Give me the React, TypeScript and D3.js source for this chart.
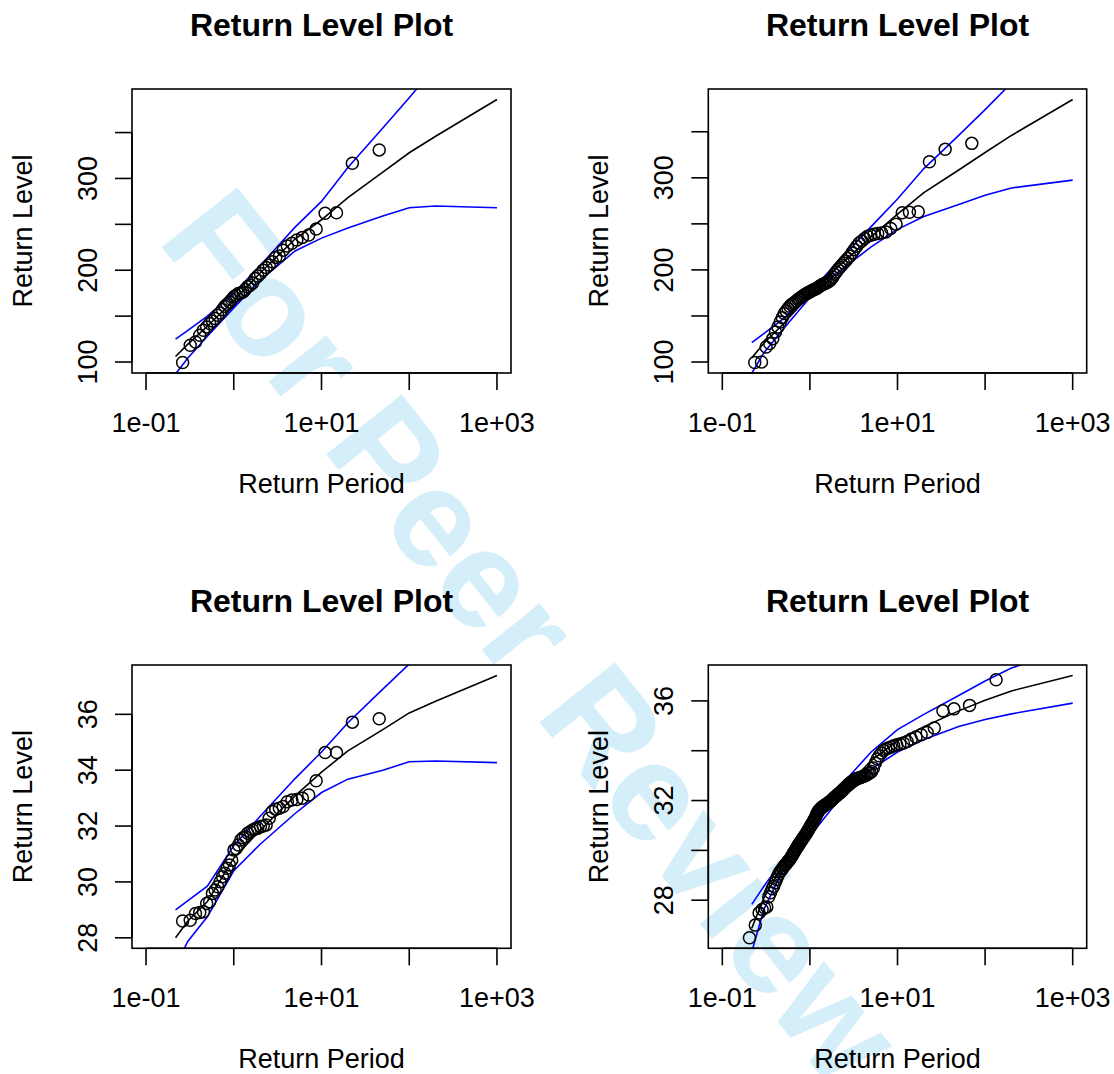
import React from "react";
import * as d3 from "d3";

// Return periods at which the fitted return level and its 95% bounds are drawn
const RETURN_PERIODS = [0.217, 0.3, 0.5, 1, 2, 5, 10, 20, 50, 100, 200, 1000];

// Panel A (top left)
const obsA = [
  99.5, 118.2, 121.8, 129.1, 134.6, 138.2, 141.9, 144.8, 147.4, 151.0,
  153.5, 157.2, 160.8, 163.0, 165.5, 168.1, 171.0, 172.8, 174.7, 175.3,
  176.4, 179.0, 181.9, 183.7, 186.2, 191.0, 193.6, 196.5, 200.1, 203.0,
  205.6, 209.2, 214.0, 215.4, 221.9, 226.3, 229.3, 232.9, 235.8, 238.3,
  244.9, 262.0, 262.7, 316.6, 331.1,
];
const fitA = [106, 119.5, 139, 167, 197, 234, 255, 279, 307, 328, 346, 386];
const upA = [125, 134.5, 150, 175, 205, 247, 275, 312, 355, 388, 422, 504];
const loA = [87, 104.5, 128, 159, 189, 221, 235, 246, 259, 268, 270, 268];

// Panel B (top right)
const obsB = [
  99.5, 100.0, 116.3, 120.0, 125.4, 132.6, 138.0, 143.5, 148.2, 152.6,
  155.4, 158.0, 160.5, 162.4, 163.5, 164.9, 166.3, 167.8, 168.9, 170.0,
  171.4, 172.5, 173.6, 174.3, 175.4, 176.1, 177.2, 177.9, 178.7, 179.3,
  180.1, 181.5, 182.6, 183.7, 184.5, 185.2, 185.9, 187.0, 188.0, 189.6,
  192.4, 195.3, 197.8, 200.4, 202.6, 205.1, 207.6, 209.8, 212.4, 214.9,
  218.5, 222.2, 225.8, 229.3, 231.5, 234.1, 236.6, 237.7, 238.8, 239.6,
  240.2, 241.3, 245.0, 249.7, 262.0, 262.6, 263.2, 317.4, 330.9, 337.4,
];
const fitB = [104.5, 120.7, 141.5, 173, 201.5, 236, 260.5, 284, 308.5, 327.5, 346, 385];
const upB = [121, 131, 147, 176, 207, 247, 277, 310, 346, 374, 403, 472.5];
const loB = [88, 110.4, 136, 170, 196, 225, 244, 258, 271, 281, 289, 297.5];

// Panel C (bottom left)
const obsC = [
  28.6, 28.63, 28.87, 28.91, 28.93, 29.23, 29.29, 29.59, 29.71, 29.83,
  30.01, 30.19, 30.31, 30.49, 30.61, 30.78, 31.14, 31.2, 31.32, 31.5,
  31.58, 31.62, 31.74, 31.8, 31.86, 31.9, 31.92, 31.98, 32.0, 32.04,
  32.28, 32.52, 32.6, 32.64, 32.7, 32.87, 32.93, 32.95, 33.0, 33.11,
  33.62, 34.63, 34.63, 35.72, 35.84,
];
const fitC = [28.0, 28.6, 29.3, 30.85, 31.85, 33.08, 33.93, 34.69, 35.45, 36.05, 36.47, 37.39];
const upC = [29.0, 29.33, 29.85, 31.3, 32.35, 33.7, 34.65, 35.7, 36.9, 37.8, 38.6, 40.51];
const loC = [27.0, 27.88, 28.75, 30.4, 31.35, 32.45, 33.2, 33.68, 34.0, 34.3, 34.33, 34.27];

// Panel D (bottom right)
const obsD = [
  26.49, 27.0, 27.49, 27.63, 27.69, 27.73, 28.14, 28.3, 28.46, 28.56,
  28.7, 28.83, 28.96, 29.06, 29.15, 29.19, 29.27, 29.31, 29.39, 29.43,
  29.46, 29.53, 29.58, 29.6, 29.66, 29.73, 29.77, 29.85, 29.91, 29.95,
  30.02, 30.06, 30.13, 30.17, 30.24, 30.27, 30.34, 30.37, 30.43, 30.47,
  30.51, 30.57, 30.6, 30.66, 30.7, 30.76, 30.8, 30.87, 30.91, 30.98,
  31.01, 31.08, 31.12, 31.19, 31.23, 31.31, 31.36, 31.45, 31.49, 31.57,
  31.61, 31.63, 31.68, 31.7, 31.74, 31.75, 31.79, 31.8, 31.83, 31.84,
  31.88, 31.89, 31.93, 31.94, 31.98, 32.0, 32.05, 32.07, 32.12, 32.14,
  32.18, 32.2, 32.25, 32.27, 32.31, 32.33, 32.39, 32.41, 32.47, 32.5,
  32.55, 32.58, 32.64, 32.66, 32.72, 32.74, 32.79, 32.8, 32.86, 32.88,
  32.89, 32.92, 32.93, 32.96, 32.97, 33.01, 33.03, 33.09, 33.11, 33.17,
  33.31, 33.51, 33.67, 33.8, 33.91, 34.01, 34.07, 34.11, 34.15, 34.2,
  34.24, 34.27, 34.31, 34.37, 34.47, 34.55, 34.64, 34.73, 34.91, 35.6,
  35.68, 35.82, 36.85,
];
const fitD = [26.88, 28.11, 29.46, 30.79, 32.15, 33.6, 34.4, 34.96, 35.6, 36.03, 36.4, 37.02];
const upD = [27.83, 28.57, 29.65, 31.0, 32.4, 33.95, 34.85, 35.46, 36.22, 36.8, 37.32, 38.13];
const loD = [25.93, 27.65, 29.26, 30.57, 31.9, 33.25, 33.95, 34.45, 34.97, 35.25, 35.48, 35.91];

// Axis ticks and labels
const X_TICKS = [0.1, 1, 10, 100, 1000];
const X_TICK_LABELS = ["1e-01", "", "1e+01", "", "1e+03"];
const Y_TICKS_TOP = [100, 150, 200, 250, 300, 350];
const Y_LABELS_TOP = ["100", "", "200", "", "300", ""];
const Y_TICKS_BOTTOM = [28, 30, 32, 34, 36];
const Y_LABELS_C = ["28", "30", "32", "34", "36"];
const Y_LABELS_D = ["28", "", "32", "", "36"];

const TITLE = "Return Level Plot";
const X_TITLE = "Return Period";
const Y_TITLE = "Return Level";
const WATERMARK = "For Peer Review";

const FONT = "'Liberation Sans', Arial, Helvetica, sans-serif";

type PanelSpec = {
  id: string;
  box: { x0: number; x1: number; y0: number; y1: number };
  obs: number[];
  fit: number[];
  up: number[];
  lo: number[];
  yTicks: number[];
  yLabels: string[];
};

const PANELS: PanelSpec[] = [
  { id: "a", box: { x0: 132, x1: 511, y0: 89, y1: 373 }, obs: obsA, fit: fitA, up: upA, lo: loA, yTicks: Y_TICKS_TOP, yLabels: Y_LABELS_TOP },
  { id: "b", box: { x0: 708.3, x1: 1086.7, y0: 89, y1: 373 }, obs: obsB, fit: fitB, up: upB, lo: loB, yTicks: Y_TICKS_TOP, yLabels: Y_LABELS_TOP },
  { id: "c", box: { x0: 132, x1: 511, y0: 665, y1: 948.3 }, obs: obsC, fit: fitC, up: upC, lo: loC, yTicks: Y_TICKS_BOTTOM, yLabels: Y_LABELS_C },
  { id: "d", box: { x0: 708.3, x1: 1086.7, y0: 665, y1: 948.3 }, obs: obsD, fit: fitD, up: upD, lo: loD, yTicks: Y_TICKS_BOTTOM, yLabels: Y_LABELS_D },
];

const AXIS_SIZE = 27;
const TITLE_SIZE = 32;
const TICK_LEN = 17;
const LW = 1.6;

function Panel({ p }: { p: PanelSpec }) {
  const { x0, x1, y0, y1 } = p.box;

  // log x-axis over 0.1..1000 with R's 4% padding
  const lxLo = Math.log10(0.1);
  const lxHi = Math.log10(1000);
  const lxPad = (lxHi - lxLo) * 0.04;
  const x = d3
    .scaleLog()
    .domain([Math.pow(10, lxLo - lxPad), Math.pow(10, lxHi + lxPad)])
    .range([x0, x1]);

  // y range covers the observations and fitted curve, padded 4%
  const [ymin, ymax] = d3.extent([...p.obs, ...p.fit]) as [number, number];
  const yPad = (ymax - ymin) * 0.04;
  const y = d3.scaleLinear().domain([ymin - yPad, ymax + yPad]).range([y1, y0]);

  const line = d3
    .line<number>()
    .x((_, i) => x(RETURN_PERIODS[i]))
    .y((d) => y(d));

  // empirical return period of each sorted observation
  const n = p.obs.length;
  const pts = p.obs.map((v, i) => ({ t: -1 / Math.log((i + 1) / (n + 1)), v }));

  const cx = (x0 + x1) / 2;
  const cy = (y0 + y1) / 2;
  const clipId = `clip-${p.id}`;

  return (
    <g>
      <defs>
        <clipPath id={clipId}>
          <rect x={x0} y={y0} width={x1 - x0} height={y1 - y0} />
        </clipPath>
      </defs>

      <g clipPath={`url(#${clipId})`} fill="none">
        <path d={line(p.fit) || ""} stroke="#000" strokeWidth={LW} />
        <path d={line(p.up) || ""} stroke="#0000FF" strokeWidth={LW} />
        <path d={line(p.lo) || ""} stroke="#0000FF" strokeWidth={LW} />
        {pts.map((d, i) => (
          <circle key={i} cx={x(d.t)} cy={y(d.v)} r={6} stroke="#000" strokeWidth={1.5} />
        ))}
      </g>

      <rect x={x0} y={y0} width={x1 - x0} height={y1 - y0} fill="none" stroke="#000" strokeWidth={1.6} />

      {/* x axis */}
      <line x1={x(X_TICKS[0])} x2={x(X_TICKS[X_TICKS.length - 1])} y1={y1} y2={y1} stroke="#000" strokeWidth={1.6} />
      {X_TICKS.map((t, i) => (
        <g key={`xt${i}`}>
          <line x1={x(t)} x2={x(t)} y1={y1} y2={y1 + TICK_LEN} stroke="#000" strokeWidth={1.6} />
          {X_TICK_LABELS[i] && (
            <text x={x(t)} y={y1 + 59} textAnchor="middle" fontSize={AXIS_SIZE} fontFamily={FONT}>
              {X_TICK_LABELS[i]}
            </text>
          )}
        </g>
      ))}

      {/* y axis */}
      <line x1={x0} x2={x0} y1={y(p.yTicks[0])} y2={y(p.yTicks[p.yTicks.length - 1])} stroke="#000" strokeWidth={1.6} />
      {p.yTicks.map((t, i) => (
        <g key={`yt${i}`}>
          <line x1={x0 - TICK_LEN} x2={x0} y1={y(t)} y2={y(t)} stroke="#000" strokeWidth={1.6} />
          {p.yLabels[i] && (
            <text
              transform={`translate(${x0 - 35.5},${y(t)}) rotate(-90)`}
              textAnchor="middle"
              fontSize={AXIS_SIZE}
              fontFamily={FONT}
            >
              {p.yLabels[i]}
            </text>
          )}
        </g>
      ))}

      <text x={cx} y={y0 - 53} textAnchor="middle" fontSize={TITLE_SIZE} fontWeight="bold" fontFamily={FONT}>
        {TITLE}
      </text>
      <text x={cx} y={y1 + 120} textAnchor="middle" fontSize={AXIS_SIZE} fontFamily={FONT}>
        {X_TITLE}
      </text>
      <text
        transform={`translate(${x0 - 100.5},${cy}) rotate(-90)`}
        textAnchor="middle"
        fontSize={AXIS_SIZE}
        fontFamily={FONT}
      >
        {Y_TITLE}
      </text>
    </g>
  );
}

export default function App() {
  return (
    <svg
      width={1114}
      height={1074}
      viewBox="0 0 1114 1074"
      style={{ position: "absolute", left: 0, top: 0, background: "#fff" }}
    >
      <rect width={1114} height={1074} fill="#fff" />
      <text
        transform="translate(156,240) rotate(51.5)"
        fontSize={140}
        fontWeight="bold"
        fontFamily={FONT}
        fill="rgb(212,238,250)"
      >
        {WATERMARK}
      </text>
      {PANELS.map((p) => (
        <Panel key={p.id} p={p} />
      ))}
    </svg>
  );
}
